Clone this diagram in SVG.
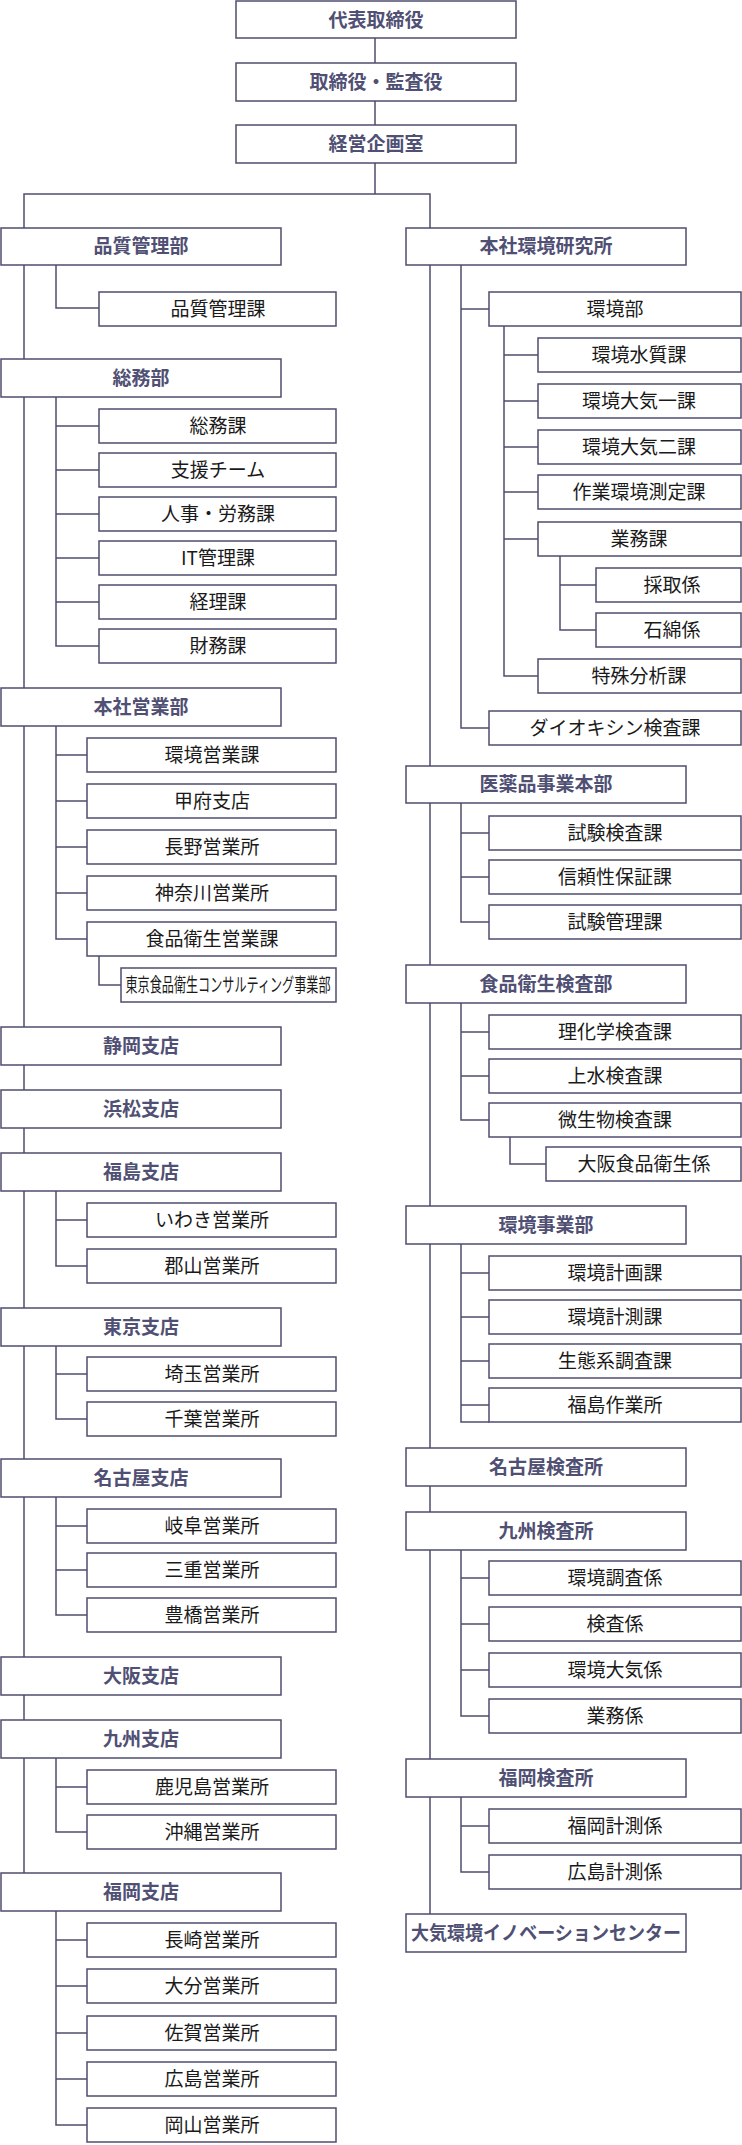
<svg xmlns="http://www.w3.org/2000/svg" width="742" height="2145" viewBox="0 0 742 2145">
<style>
rect{fill:#fff;stroke:#4d4d6e;stroke-width:1.5}
.d{font-family:"Noto Sans CJK JP",sans-serif;font-size:19px;font-weight:bold;fill:#505074;text-anchor:middle}
.c{font-family:"Noto Sans CJK JP",sans-serif;font-size:19px;fill:#1a1a1a;text-anchor:middle}
#conn path{fill:none;stroke:#4d4d6e;stroke-width:1.5}
</style>
<g id="conn"><path d="M375 38V63M375 101V125M375 163V194M24 228V194H430V228
M24 265V1873M56 265V308H99M56 397V646H99M56 426H99M56 470H99M56 514H99M56 558H99M56 602H99
M56 726V939H87M56 755H87M56 801H87M56 847H87M56 893H87M99 956V985H121
M56 1191V1266H87M56 1220H87M56 1346V1419H87M56 1374H87M56 1497V1615H87M56 1526H87M56 1570H87
M56 1758V1832H87M56 1787H87M56 1911V2125H87M56 1940H87M56 1986H87M56 2033H87M56 2079H87
M430 265V1914M461 265V728H489M461 309H489M504 326V676H538M504 355H538M504 401H538M504 447H538M504 492H538M504 539H538M560 556V630H596M560 585H596
M461 803V922H489M461 833H489M461 877H489M461 1003V1120H489M461 1032H489M461 1076H489M510 1137V1164H546
M461 1244V1422H489M461 1273H489M461 1317H489M461 1361H489M461 1405H489
M461 1550V1716H489M461 1578H489M461 1624H489M461 1670H489M461 1797V1872H489M461 1826H489"/></g>
<g id="n1"><rect x="236" y="1" width="280" height="37"/><text class="d" x="376" y="27">代表取締役</text></g>
<g id="n2"><rect x="236" y="63" width="280" height="38"/><text class="d" x="376" y="89">取締役・監査役</text></g>
<g id="n3"><rect x="236" y="125" width="280" height="38"/><text class="d" x="376" y="151">経営企画室</text></g>
<g id="d1"><rect x="1" y="228" width="280" height="37"/><text class="d" x="141" y="253">品質管理部</text></g>
<g id="c1"><rect x="99" y="292" width="237" height="34"/><text class="c" x="218" y="316">品質管理課</text></g>
<g id="d2"><rect x="1" y="359" width="280" height="38"/><text class="d" x="141" y="385">総務部</text></g>
<g id="c2"><rect x="99" y="409" width="237" height="34"/><text class="c" x="218" y="433">総務課</text></g>
<g id="c3"><rect x="99" y="453" width="237" height="34"/><text class="c" x="218" y="477">支援チーム</text></g>
<g id="c4"><rect x="99" y="497" width="237" height="34"/><text class="c" x="218" y="521">人事・労務課</text></g>
<g id="c5"><rect x="99" y="541" width="237" height="34"/><text class="c" x="218" y="565">IT管理課</text></g>
<g id="c6"><rect x="99" y="585" width="237" height="34"/><text class="c" x="218" y="609">経理課</text></g>
<g id="c7"><rect x="99" y="629" width="237" height="34"/><text class="c" x="218" y="653">財務課</text></g>
<g id="d3"><rect x="1" y="688" width="280" height="38"/><text class="d" x="141" y="714">本社営業部</text></g>
<g id="c8"><rect x="87" y="738" width="249" height="34"/><text class="c" x="212" y="762">環境営業課</text></g>
<g id="c9"><rect x="87" y="784" width="249" height="34"/><text class="c" x="212" y="808">甲府支店</text></g>
<g id="c10"><rect x="87" y="830" width="249" height="34"/><text class="c" x="212" y="854">長野営業所</text></g>
<g id="c11"><rect x="87" y="876" width="249" height="34"/><text class="c" x="212" y="900">神奈川営業所</text></g>
<g id="c12"><rect x="87" y="922" width="249" height="34"/><text class="c" x="212" y="946">食品衛生営業課</text></g>
<g id="c13"><rect x="121" y="968" width="215" height="34"/><text class="c" x="228" y="992" font-size="16" textLength="205" lengthAdjust="spacingAndGlyphs">東京食品衛生コンサルティング事業部</text></g>
<g id="d4"><rect x="1" y="1027" width="280" height="38"/><text class="d" x="141" y="1053">静岡支店</text></g>
<g id="d5"><rect x="1" y="1090" width="280" height="38"/><text class="d" x="141" y="1116">浜松支店</text></g>
<g id="d6"><rect x="1" y="1153" width="280" height="38"/><text class="d" x="141" y="1179">福島支店</text></g>
<g id="c14"><rect x="87" y="1203" width="249" height="34"/><text class="c" x="212" y="1227">いわき営業所</text></g>
<g id="c15"><rect x="87" y="1249" width="249" height="34"/><text class="c" x="212" y="1273">郡山営業所</text></g>
<g id="d7"><rect x="1" y="1308" width="280" height="38"/><text class="d" x="141" y="1334">東京支店</text></g>
<g id="c16"><rect x="87" y="1357" width="249" height="34"/><text class="c" x="212" y="1381">埼玉営業所</text></g>
<g id="c17"><rect x="87" y="1402" width="249" height="34"/><text class="c" x="212" y="1426">千葉営業所</text></g>
<g id="d8"><rect x="1" y="1459" width="280" height="38"/><text class="d" x="141" y="1485">名古屋支店</text></g>
<g id="c18"><rect x="87" y="1509" width="249" height="34"/><text class="c" x="212" y="1533">岐阜営業所</text></g>
<g id="c19"><rect x="87" y="1553" width="249" height="34"/><text class="c" x="212" y="1577">三重営業所</text></g>
<g id="c20"><rect x="87" y="1598" width="249" height="34"/><text class="c" x="212" y="1622">豊橋営業所</text></g>
<g id="d9"><rect x="1" y="1657" width="280" height="38"/><text class="d" x="141" y="1683">大阪支店</text></g>
<g id="d10"><rect x="1" y="1720" width="280" height="38"/><text class="d" x="141" y="1746">九州支店</text></g>
<g id="c21"><rect x="87" y="1770" width="249" height="34"/><text class="c" x="212" y="1794">鹿児島営業所</text></g>
<g id="c22"><rect x="87" y="1815" width="249" height="34"/><text class="c" x="212" y="1839">沖縄営業所</text></g>
<g id="d11"><rect x="1" y="1873" width="280" height="38"/><text class="d" x="141" y="1899">福岡支店</text></g>
<g id="c23"><rect x="87" y="1923" width="249" height="34"/><text class="c" x="212" y="1947">長崎営業所</text></g>
<g id="c24"><rect x="87" y="1969" width="249" height="34"/><text class="c" x="212" y="1993">大分営業所</text></g>
<g id="c25"><rect x="87" y="2016" width="249" height="34"/><text class="c" x="212" y="2040">佐賀営業所</text></g>
<g id="c26"><rect x="87" y="2062" width="249" height="34"/><text class="c" x="212" y="2086">広島営業所</text></g>
<g id="c27"><rect x="87" y="2108" width="249" height="34"/><text class="c" x="212" y="2132">岡山営業所</text></g>
<g id="r1"><rect x="406" y="228" width="280" height="37"/><text class="d" x="546" y="253">本社環境研究所</text></g>
<g id="r2"><rect x="489" y="292" width="252" height="34"/><text class="c" x="615" y="316">環境部</text></g>
<g id="r3"><rect x="538" y="338" width="203" height="34"/><text class="c" x="639" y="362">環境水質課</text></g>
<g id="r4"><rect x="538" y="384" width="203" height="34"/><text class="c" x="639" y="408">環境大気一課</text></g>
<g id="r5"><rect x="538" y="430" width="203" height="34"/><text class="c" x="639" y="454">環境大気二課</text></g>
<g id="r6"><rect x="538" y="475" width="203" height="34"/><text class="c" x="639" y="499">作業環境測定課</text></g>
<g id="r7"><rect x="538" y="522" width="203" height="34"/><text class="c" x="639" y="546">業務課</text></g>
<g id="r8"><rect x="596" y="568" width="145" height="34"/><text class="c" x="672" y="592">採取係</text></g>
<g id="r9"><rect x="596" y="613" width="145" height="34"/><text class="c" x="672" y="637">石綿係</text></g>
<g id="r10"><rect x="538" y="659" width="203" height="34"/><text class="c" x="639" y="683">特殊分析課</text></g>
<g id="r11"><rect x="489" y="711" width="252" height="34"/><text class="c" x="615" y="735">ダイオキシン検査課</text></g>
<g id="r12"><rect x="406" y="766" width="280" height="37"/><text class="d" x="546" y="791">医薬品事業本部</text></g>
<g id="r13"><rect x="489" y="816" width="252" height="34"/><text class="c" x="615" y="840">試験検査課</text></g>
<g id="r14"><rect x="489" y="860" width="252" height="34"/><text class="c" x="615" y="884">信頼性保証課</text></g>
<g id="r15"><rect x="489" y="905" width="252" height="34"/><text class="c" x="615" y="929">試験管理課</text></g>
<g id="r16"><rect x="406" y="965" width="280" height="38"/><text class="d" x="546" y="991">食品衛生検査部</text></g>
<g id="r17"><rect x="489" y="1015" width="252" height="34"/><text class="c" x="615" y="1039">理化学検査課</text></g>
<g id="r18"><rect x="489" y="1059" width="252" height="34"/><text class="c" x="615" y="1083">上水検査課</text></g>
<g id="r19"><rect x="489" y="1103" width="252" height="34"/><text class="c" x="615" y="1127">微生物検査課</text></g>
<g id="r20"><rect x="546" y="1147" width="195" height="34"/><text class="c" x="644" y="1171">大阪食品衛生係</text></g>
<g id="r21"><rect x="406" y="1206" width="280" height="38"/><text class="d" x="546" y="1232">環境事業部</text></g>
<g id="r22"><rect x="489" y="1256" width="252" height="34"/><text class="c" x="615" y="1280">環境計画課</text></g>
<g id="r23"><rect x="489" y="1300" width="252" height="34"/><text class="c" x="615" y="1324">環境計測課</text></g>
<g id="r24"><rect x="489" y="1344" width="252" height="34"/><text class="c" x="615" y="1368">生態系調査課</text></g>
<g id="r25"><rect x="489" y="1388" width="252" height="34"/><text class="c" x="615" y="1412">福島作業所</text></g>
<g id="r26"><rect x="406" y="1448" width="280" height="38"/><text class="d" x="546" y="1474">名古屋検査所</text></g>
<g id="r27"><rect x="406" y="1512" width="280" height="38"/><text class="d" x="546" y="1538">九州検査所</text></g>
<g id="r28"><rect x="489" y="1561" width="252" height="34"/><text class="c" x="615" y="1585">環境調査係</text></g>
<g id="r29"><rect x="489" y="1607" width="252" height="34"/><text class="c" x="615" y="1631">検査係</text></g>
<g id="r30"><rect x="489" y="1653" width="252" height="34"/><text class="c" x="615" y="1677">環境大気係</text></g>
<g id="r31"><rect x="489" y="1699" width="252" height="34"/><text class="c" x="615" y="1723">業務係</text></g>
<g id="r32"><rect x="406" y="1759" width="280" height="38"/><text class="d" x="546" y="1785">福岡検査所</text></g>
<g id="r33"><rect x="489" y="1809" width="252" height="34"/><text class="c" x="615" y="1833">福岡計測係</text></g>
<g id="r34"><rect x="489" y="1855" width="252" height="34"/><text class="c" x="615" y="1879">広島計測係</text></g>
<g id="r35"><rect x="406" y="1914" width="280" height="38"/><text class="d" x="546" y="1940" font-size="18" textLength="270" lengthAdjust="spacingAndGlyphs">大気環境イノベーションセンター</text></g>
</svg>
